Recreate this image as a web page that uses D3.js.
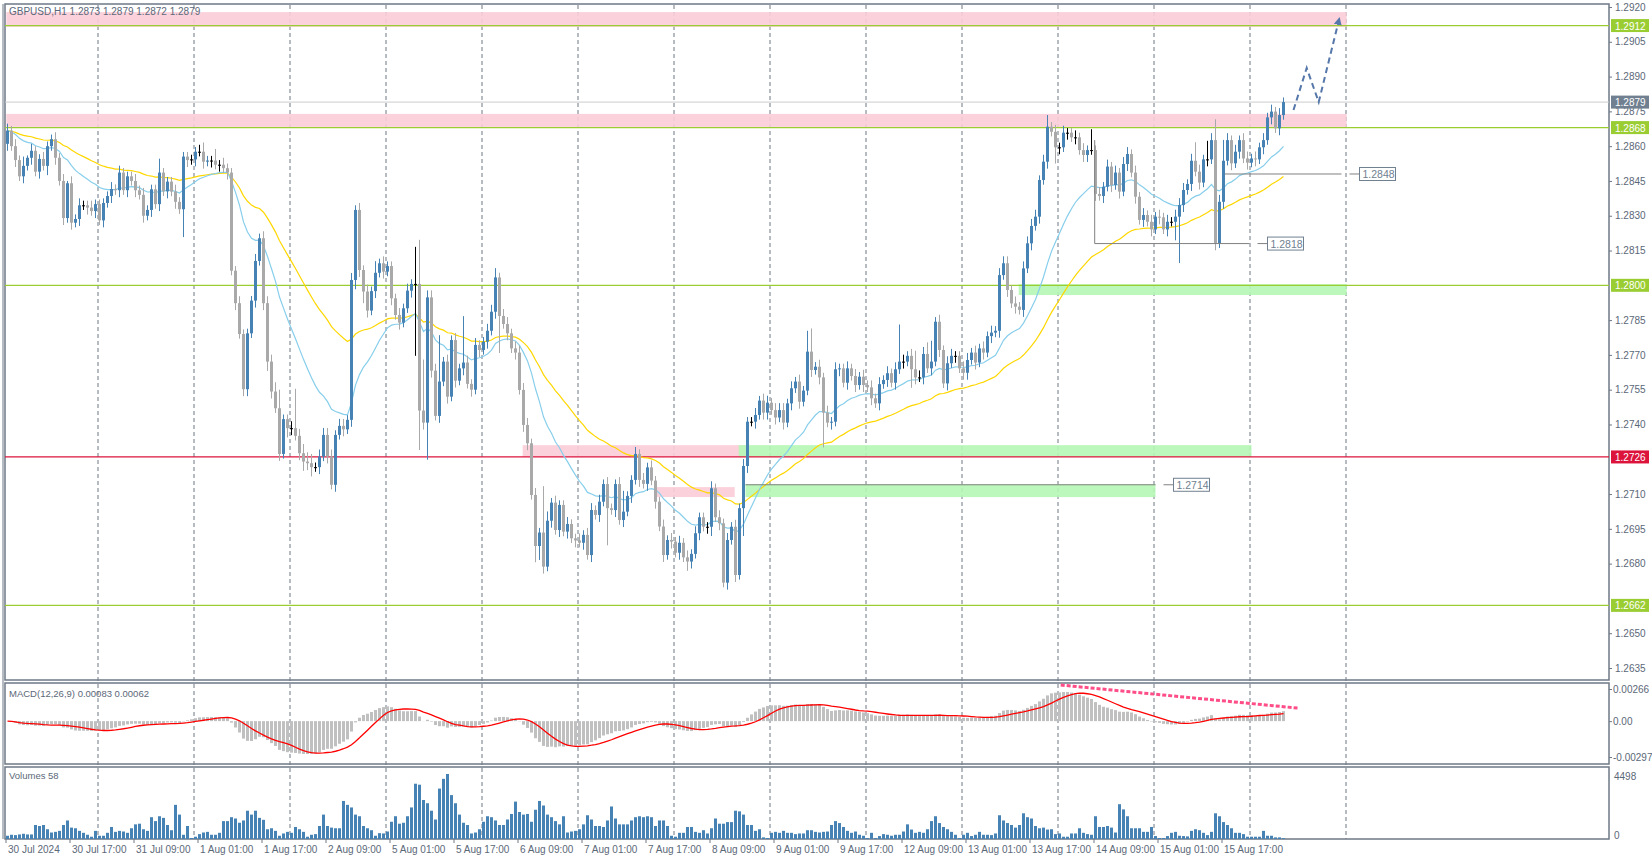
<!DOCTYPE html>
<html>
<head>
<meta charset="utf-8">
<script src="https://cdn.jsdelivr.net/npm/d3@7"></script>
<style>
  html, body { margin: 0; background: #fff; }
  svg { display: block; font-family: "Liberation Sans", Arial, sans-serif; }
  .axis text { fill: #5b6878; font-size: 10px; font-family: "Liberation Sans", Arial, sans-serif; }
</style>
</head>
<body>
<svg id="chart" width="1652" height="862"></svg>
<script>
"use strict";

/* GBPUSD H1 closes, in pips: 2866.7 -> 1.28667 */
const CLOSES = [
  2866.7, 2860, 2854, 2847, 2851.5, 2855, 2858, 2849, 2854.5, 2851.5,
  2860, 2863, 2855, 2845, 2829, 2844, 2827, 2828.6, 2834.5, 2834.5,
  2833.5, 2832, 2835, 2828, 2835.5, 2838.5, 2841.5, 2841, 2848.6, 2841,
  2847, 2845, 2841, 2839, 2830, 2832.5, 2841.4, 2835, 2848.6, 2840.5,
  2844.7, 2840.4, 2836, 2832.8, 2855.5, 2854, 2854.3, 2857.6, 2857.6, 2853.3,
  2853.8, 2853.8, 2852, 2852, 2850.5, 2848.6, 2806.3, 2792.3, 2779, 2755.2,
  2779.3, 2793.4, 2810.5, 2820.3, 2792.3, 2767.1, 2754.2, 2747, 2727.3, 2742.3,
  2738.4, 2738.4, 2735.1, 2727.6, 2724, 2723.3, 2721.6, 2721.6, 2726.2, 2735.5,
  2726.2, 2714, 2735.5, 2739.4, 2737.9, 2742, 2802.3, 2832.5, 2806.6, 2797.3,
  2789.1, 2797.5, 2805.4, 2809.5, 2805.9, 2808.3, 2794.4, 2787.2, 2783.9, 2790.1,
  2797.7, 2800.6, 2800.6, 2746, 2740.8, 2794.8, 2763.2, 2743.7, 2758.5, 2767.1,
  2752, 2776.4, 2758.9, 2764.2, 2766.7, 2757.5, 2755, 2774.3, 2772.1, 2775.7,
  2780.4, 2788.6, 2803.4, 2786.8, 2783.3, 2779.3, 2772.8, 2771, 2754.9, 2739.8,
  2731.9, 2709.6, 2687.6, 2693.4, 2678.7, 2698.5, 2706.3, 2694.5, 2705.3, 2693.8,
  2697.1, 2690.9, 2690, 2689, 2692.4, 2683.7, 2703.1, 2701, 2706.7, 2714.3,
  2703.9, 2703.1, 2714.3, 2698.8, 2702.4, 2709.2, 2716.1, 2727.3, 2716.1, 2714.4,
  2721.5, 2715.8, 2706.7, 2696, 2683.7, 2690.2, 2689.5, 2684.7, 2689, 2682.7,
  2680.9, 2684.2, 2693.1, 2700, 2695.9, 2695.9, 2712.5, 2700, 2697.4, 2671.8,
  2690.2, 2695.9, 2675.1, 2703.9, 2722.1, 2741.2, 2741.2, 2744.1, 2750.3, 2745.1,
  2749.4, 2746.2, 2743, 2746.2, 2740.8, 2749.1, 2755.6, 2758.5, 2749.8, 2754.6,
  2771.4, 2763.5, 2764.9, 2760.3, 2745.1, 2740.8, 2741.2, 2763.8, 2764.2, 2758,
  2764.2, 2760.9, 2757, 2760.6, 2757, 2756, 2751.3, 2749.1, 2757.4, 2759.2,
  2762.1, 2758, 2763.8, 2767.1, 2767.1, 2769.6, 2763.8, 2760.3, 2760.3, 2770.4,
  2764.2, 2767.1, 2784.3, 2772.1, 2757.7, 2766.4, 2769.6, 2769.6, 2764.2, 2762.3,
  2767.8, 2771, 2766.7, 2772.8, 2771, 2778.1, 2779.6, 2780.4, 2804.4, 2809.5,
  2798, 2792.2, 2790.8, 2789.4, 2807.3, 2818.1, 2825.6, 2829.6, 2845.4, 2853.3,
  2868.4, 2866.2, 2859.5, 2859.5, 2865.8, 2865.8, 2863.8, 2863.8, 2858.3, 2856.2,
  2858.3, 2858.3, 2839.4, 2838.5, 2842.5, 2851.2, 2843.2, 2848.6, 2840.4, 2852.3,
  2856.6, 2848.6, 2838.2, 2828.2, 2830.3, 2827.4, 2824.1, 2829.6, 2829.3, 2824.1,
  2827.4, 2827.4, 2829.6, 2834.6, 2841.1, 2843.7, 2853.7, 2849, 2844.3, 2854.3,
  2854.3, 2862.6, 2818.1, 2836, 2853.7, 2862.6, 2852.6, 2857.6, 2862.6, 2854.7,
  2852.9, 2854.7, 2854.3, 2859.5, 2862.6, 2872.4, 2874.9, 2867.7, 2873.4, 2879
];
const FIRST_OPEN = 2861;

/* wick lengths in pips above / below the body, base-36 per candle */
const UPPER_WICK =
  "3232413223" + "2232313232" + "2322223232" + "2232322262" + "2232222234" +
  "2252322232" + "2232333482" + "23h3444233" + "3323323232" + "3252322232" +
  "32gjm333k2" + "3232k32322" + "3342332333" + "3232k42322" + "3223233232" +
  "3223922323" + "2322323232" + "3232223232" + "3232322323" + "3233323232" +
  "9a23232322" + "3232323232" + "323g323833" + "5923233223" + "3232323233" +
  "3232333323" + "5232322323" + "2923232323" + "3232323232" + "3233323832" +
  "8393932323" + "3232323232";
const LOWER_WICK =
  "3232323232" + "4232323232" + "3232323232" + "3232323232" + "3232c32323" +
  "2323232323" + "3232343232" + "4323434232" + "3232323435" + "3232323232" +
  "23vh3g3232" + "3232323232" + "323g232323" + "3276323232" + "3232323232" +
  "g232323232" + "3232323232" + "4323234232" + "3232c32323" + "3232323232" +
  "2323f23232" + "3232323232" + "3232328323" + "2323232323" + "3232323232" +
  "3232323232" + "3273232323" + "3232323232" + "3232323232" + "328k323232" +
  "3232323232" + "3232323232";

const VOLUMES = [
  225, 293, 270, 315, 360, 315, 315, 968, 900, 968,
  675, 450, 495, 563, 968, 1283, 788, 743, 563, 428,
  293, 158, 563, 225, 225, 428, 833, 495, 563, 518,
  428, 743, 1013, 1058, 675, 563, 1508, 1238, 1575, 1463,
  968, 608, 2363, 1688, 293, 900, 68, 158, 338, 450,
  495, 293, 293, 428, 1238, 1238, 1508, 1418, 1125, 1283,
  1958, 1688, 1958, 1463, 1328, 675, 743, 563, 225, 383,
  495, 428, 833, 675, 495, 158, 293, 338, 900, 1688,
  900, 788, 743, 743, 2633, 2363, 2183, 1688, 1575, 900,
  743, 608, 225, 405, 383, 518, 1193, 1575, 1058, 1125,
  1575, 2183, 3825, 3758, 2700, 2475, 1958, 1350, 3488, 4163,
  4498, 3038, 2475, 1688, 1125, 968, 383, 450, 675, 1193,
  1575, 1508, 1283, 968, 968, 1350, 1733, 2588, 1868, 1688,
  1733, 1193, 2025, 2633, 2318, 1688, 1508, 1238, 1013, 1575,
  450, 518, 563, 675, 1013, 1643, 1350, 900, 900, 833,
  1283, 2250, 1418, 1013, 1013, 1013, 1283, 1508, 1575,
  1508, 1575, 1508, 900, 1283, 1283, 900, 225, 158, 428,
  428, 833, 833, 495, 428, 608, 383, 743, 1418, 1058,
  1058, 1170, 1170, 1958, 1913, 1688, 968, 968, 563, 675,
  113, 68, 428, 495, 428, 563, 428, 428, 338, 383,
  383, 608, 608, 495, 450, 495, 518, 968, 1238, 1103,
  833, 563, 428, 518, 293, 225, 68, 428, 68, 203,
  338, 293, 225, 293, 293, 518, 1013, 653, 428, 495,
  428, 675, 1238, 1575, 1103, 833, 675, 495, 293, 68,
  293, 428, 203, 293, 495, 293, 293, 270, 383, 1643,
  1283, 1103, 968, 788, 968, 1778, 1508, 1418, 900, 743,
  788, 653, 675, 338, 383, 158, 158, 383, 383, 743,
  428, 338, 293, 1575, 833, 833, 900, 788, 450, 2408,
  2048, 1575, 743, 743, 743, 495, 495, 833, 203, 68,
  68, 203, 428, 495, 225, 203, 180, 563, 675, 608,
  428, 270, 495, 1778, 1575, 1170, 968, 743, 428, 428,
  338, 158, 158, 158, 158, 563, 225, 225, 113, 113, 58
];

const DATE_LABELS = [
  "30 Jul 2024", "30 Jul 17:00", "31 Jul 09:00", "1 Aug 01:00", "1 Aug 17:00",
  "2 Aug 09:00", "5 Aug 01:00", "5 Aug 17:00", "6 Aug 09:00", "7 Aug 01:00",
  "7 Aug 17:00", "8 Aug 09:00", "9 Aug 01:00", "9 Aug 17:00", "12 Aug 09:00",
  "13 Aug 01:00", "13 Aug 17:00", "14 Aug 09:00", "15 Aug 01:00", "15 Aug 17:00"
];
const PRICE_TICKS = [1.2920, 1.2905, 1.2890, 1.2875, 1.2860, 1.2845, 1.2830, 1.2815,
  1.2785, 1.2770, 1.2755, 1.2740, 1.2710, 1.2695, 1.2680, 1.2650, 1.2635];
const LEVELS = [
  { p: 1.2912, kind: "green" }, { p: 1.2868, kind: "green" }, { p: 1.2800, kind: "green" },
  { p: 1.2726, kind: "red" }, { p: 1.2662, kind: "green" }
];
/* zones: price range, candle index range */
const ZONES = [
  { p0: 1.29114, p1: 1.29178, i0: -0.3, i1: 334.8, kind: "pink" },
  { p0: 1.28683, p1: 1.28739, i0: -0.3, i1: 334.8, kind: "pink" },
  { p0: 1.27958, p1: 1.28005, i0: 252.8, i1: 334.8, kind: "green" },
  { p0: 1.27260, p1: 1.27311, i0: 128.8, i1: 184.8, kind: "pink" },
  { p0: 1.27260, p1: 1.27311, i0: 182.8, i1: 311, kind: "green" },
  { p0: 1.27087, p1: 1.27130, i0: 162.3, i1: 181.8, kind: "pink" },
  { p0: 1.27087, p1: 1.27143, i0: 184.5, i1: 287, kind: "green" }
];
const MARKERS = [
  { p: 1.2848, i0: 304.3, i1: 333.5, top: null },
  { p: 1.2818, i0: 271.8, i1: 310.5, top: 1.28626 },
  { p: 1.2714, i0: 184.5, i1: 287, top: null }
];
const FORECAST_I = [321.5, 324.8, 327.8, 332.8];
const FORECAST_P = [1.28756, 1.28937, 1.2879, 1.2914];
const MACD_TREND_I = [263.3, 322.5];
const MACD_TREND_V = [0.00299, 0.00108];

const ZONE_FILL = { pink: "#fbcdd8", green: "#b5f7b5" };
const AXIS_COLOR = "#6e7886";

const svg = d3.select("#chart");
const N = CLOSES.length;
const close = CLOSES.map((v) => 1 + v / 10000);
const open = close.map((c, i) => (i === 0 ? 1 + FIRST_OPEN / 10000 : close[i - 1]));
const wick = (s, i) => parseInt(s[i] || "2", 36) / 10000;
const high = close.map((c, i) => Math.max(c, open[i]) + wick(UPPER_WICK, i));
const low = close.map((c, i) => Math.min(c, open[i]) - wick(LOWER_WICK, i));

function ema(vals, n) {
  const k = 2 / (n + 1);
  const out = [];
  vals.forEach((v, i) => out.push(i === 0 ? v : v * k + out[i - 1] * (1 - k)));
  return out;
}
const emaFast = ema(close, 21);
const emaSlow = ema(close, 50);
const ema26 = ema(close, 26);
const macd = ema(close, 12).map((v, i) => v - ema26[i]);
const signal = macd.map((v, i) => d3.mean(macd.slice(Math.max(0, i - 8), i + 1)));

const x = d3.scaleLinear([0, 319], [7.5, 1283.5]);
const y = d3.scaleLinear([1.2635, 1.2920], [668, 7]);
const ym = d3.scaleLinear([-0.00297, 0.00266], [757, 689]);
const yv = d3.scaleLinear([0, 4498], [839, 774]);
const PL = 5, PR = 1609;

/* panel frames */
const panels = [[4, 680], [683, 764], [767, 839]];
svg.append("g").selectAll("rect").data(panels).join("rect")
  .attr("x", PL).attr("y", (d) => d[0]).attr("width", PR - PL).attr("height", (d) => d[1] - d[0])
  .attr("fill", "none").attr("stroke", AXIS_COLOR).attr("stroke-width", 1.5);
svg.append("line").attr("x1", 3).attr("x2", 3).attr("y1", 4).attr("y2", 839)
  .attr("stroke", AXIS_COLOR);

svg.append("defs").append("clipPath").attr("id", "cm").append("rect")
  .attr("x", PL).attr("y", 4).attr("width", PR - PL).attr("height", 676);

/* day separators */
const days = d3.range(23, 336, 24);
svg.append("g").selectAll("line").data(days).join("line")
  .attr("x1", (d) => x(d) - 1.5).attr("x2", (d) => x(d) - 1.5)
  .attr("y1", 5).attr("y2", 839)
  .attr("stroke", AXIS_COLOR).attr("stroke-dasharray", "4,3");

const main = svg.append("g").attr("clip-path", "url(#cm)");

main.selectAll(".zone").data(ZONES).join("rect")
  .attr("x", (d) => x(d.i0)).attr("width", (d) => x(d.i1) - x(d.i0))
  .attr("y", (d) => y(d.p1)).attr("height", (d) => y(d.p0) - y(d.p1))
  .attr("fill", (d) => ZONE_FILL[d.kind]).attr("opacity", 0.9);

main.append("line").attr("x1", PL).attr("x2", PR)
  .attr("y1", y(close[N - 1])).attr("y2", y(close[N - 1])).attr("stroke", "#cccccc");

main.selectAll(".lvl").data(LEVELS).join("line")
  .attr("x1", PL).attr("x2", PR).attr("y1", (d) => y(d.p)).attr("y2", (d) => y(d.p))
  .attr("stroke", (d) => (d.kind === "red" ? "#dc143c" : "#9acd32")).attr("stroke-width", 1.3);

/* moving averages */
const line = (arr) => d3.line().x((d, i) => x(i)).y((d) => y(d))(arr);
main.append("path").attr("d", line(emaSlow)).attr("fill", "none").attr("stroke", "#ffd700").attr("stroke-width", 1.2);
main.append("path").attr("d", line(emaFast)).attr("fill", "none").attr("stroke", "#87ceeb").attr("stroke-width", 1.2);

/* candles */
const idx = d3.range(N);
const colorOf = (i) => (Math.abs(close[i] - open[i]) < 0.00003 ? "#000" : close[i] > open[i] ? "#4682b4" : "#a9a9a9");
main.append("g").selectAll("line").data(idx).join("line")
  .attr("x1", (i) => x(i)).attr("x2", (i) => x(i))
  .attr("y1", (i) => y(high[i])).attr("y2", (i) => y(low[i]))
  .attr("stroke", colorOf).attr("stroke-width", 1);
main.append("g").selectAll("rect").data(idx).join("rect")
  .attr("x", (i) => x(i) - 1.5).attr("width", 3)
  .attr("y", (i) => y(Math.max(open[i], close[i])))
  .attr("height", (i) => Math.max(1, Math.abs(y(open[i]) - y(close[i]))))
  .attr("fill", colorOf);

/* marker lines with price boxes */
const mk = main.append("g").selectAll("g").data(MARKERS).join("g");
mk.append("line").attr("x1", (d) => x(d.i0)).attr("x2", (d) => x(d.i1))
  .attr("y1", (d) => y(d.p)).attr("y2", (d) => y(d.p)).attr("stroke", "#808080");
mk.filter((d) => d.top).append("line").attr("x1", (d) => x(d.i0)).attr("x2", (d) => x(d.i0))
  .attr("y1", (d) => y(d.top)).attr("y2", (d) => y(d.p)).attr("stroke", "#808080");
mk.append("line").attr("x1", (d) => x(d.i1) + 8).attr("x2", (d) => x(d.i1) + 18)
  .attr("y1", (d) => y(d.p)).attr("y2", (d) => y(d.p)).attr("stroke", "#808080");
mk.append("rect").attr("x", (d) => x(d.i1) + 18).attr("y", (d) => y(d.p) - 6.5)
  .attr("width", 36).attr("height", 13).attr("fill", "#fff").attr("stroke", "#708090");
mk.append("text").attr("x", (d) => x(d.i1) + 21).attr("y", (d) => y(d.p) + 4)
  .attr("font-size", 10.5).attr("fill", "#708090").text((d) => d.p.toFixed(4));

/* forecast path */
svg.append("defs").append("marker").attr("id", "fa").attr("viewBox", "0 -4 8 8")
  .attr("refX", 4).attr("markerWidth", 4).attr("markerHeight", 4).attr("orient", "auto")
  .append("path").attr("d", "M0,-4L8,0L0,4").attr("fill", "#5577aa");
main.append("path")
  .attr("d", d3.line().x((d) => x(d)).y((d, i) => y(FORECAST_P[i]))(FORECAST_I))
  .attr("fill", "none").attr("stroke", "#5577aa").attr("stroke-width", 2)
  .attr("stroke-dasharray", "6,4").attr("marker-end", "url(#fa)");

/* title */
svg.append("text").attr("x", 9).attr("y", 15).attr("font-size", 10).attr("fill", "#5b6878")
  .text("GBPUSD,H1  1.2873 1.2879 1.2872 1.2879");

/* price axis */
const pa = svg.append("g").attr("class", "axis").attr("transform", `translate(${PR},0)`);
pa.call(d3.axisRight(y).tickValues(PRICE_TICKS).tickSize(3).tickFormat(d3.format(".4f")));
pa.select(".domain").remove();
pa.selectAll("line").attr("stroke", AXIS_COLOR);
pa.selectAll("text").attr("x", 6);

const tags = LEVELS.map((d) => ({ p: d.p, c: d.kind === "red" ? "#dc143c" : "#9acd32" }))
  .concat([{ p: close[N - 1], c: "#708090" }]);
const tg = svg.append("g").selectAll("g").data(tags).join("g")
  .attr("transform", (d) => `translate(${PR + 2},${y(d.p)})`);
tg.append("rect").attr("y", -6.5).attr("width", 38).attr("height", 13).attr("fill", (d) => d.c);
tg.append("text").attr("x", 4).attr("y", 4).attr("font-size", 10).attr("fill", "#fff").text((d) => d.p.toFixed(4));

/* MACD panel */
const mg = svg.append("g");
mg.selectAll("rect").data(idx).join("rect")
  .attr("x", (i) => x(i) - 1.5).attr("width", 3)
  .attr("y", (i) => Math.min(ym(0), ym(macd[i])))
  .attr("height", (i) => Math.abs(ym(macd[i]) - ym(0)))
  .attr("fill", "#c0c0c0");
mg.append("path").attr("d", d3.line().x((d, i) => x(i)).y((d) => ym(d))(signal))
  .attr("fill", "none").attr("stroke", "#ff0000").attr("stroke-width", 1.3);
mg.append("path")
  .attr("d", d3.line().x((d) => x(d)).y((d, i) => ym(MACD_TREND_V[i]))(MACD_TREND_I))
  .attr("stroke", "#ff4d88").attr("stroke-width", 3).attr("stroke-dasharray", "4,2");
mg.append("text").attr("x", 9).attr("y", 697).attr("font-size", 9.5).attr("fill", "#5b6878")
  .text("MACD(12,26,9) 0.00083 0.00062");
const ma = svg.append("g").attr("class", "axis").attr("transform", `translate(${PR},0)`);
ma.call(d3.axisRight(ym).tickValues([0.00266, 0, -0.00297]).tickSize(3)
  .tickFormat((d) => (d === 0 ? "0.00" : d.toFixed(5))));
ma.select(".domain").remove();
ma.selectAll("line").attr("stroke", AXIS_COLOR);
ma.selectAll("text").attr("x", 4);

/* volume panel */
svg.append("g").selectAll("rect").data(VOLUMES).join("rect")
  .attr("x", (d, i) => x(i) - 1.5).attr("width", 3)
  .attr("y", (d) => yv(d)).attr("height", (d) => yv(0) - yv(d)).attr("fill", "#4682b4");
svg.append("text").attr("x", 9).attr("y", 779).attr("font-size", 9.5).attr("fill", "#5b6878")
  .text("Volumes 58");
const va = svg.append("g").attr("class", "axis").attr("transform", `translate(${PR},0)`);
va.call(d3.axisRight(yv).tickValues([4498, 0]).tickSize(0).tickFormat(d3.format("d")));
va.select(".domain").remove();
va.selectAll("text").attr("x", 5).attr("dy", (d) => (d ? "0.5em" : "-0.1em"));

/* time axis */
const ta = svg.append("g").selectAll("g").data(DATE_LABELS).join("g")
  .attr("transform", (d, i) => `translate(${x(i * 16) - 1.5},839)`);
ta.append("line").attr("y2", 4).attr("stroke", AXIS_COLOR);
ta.append("text").attr("x", 2).attr("y", 14).attr("font-size", 10).attr("fill", "#5b6878").text((d) => d);
</script>
</body>
</html>
